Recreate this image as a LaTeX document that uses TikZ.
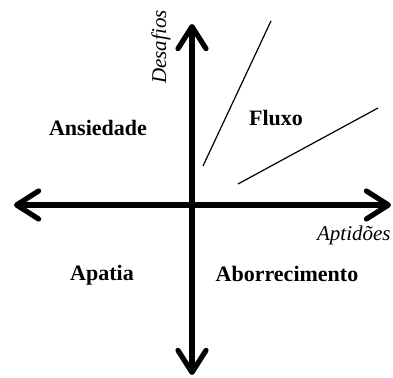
\documentclass[tikz,border=0pt]{standalone}
\usepackage{fontspec}
\setmainfont{Liberation Serif}
\usetikzlibrary{arrows.meta}

\begin{document}
\begin{tikzpicture}[x=0.5pt, y=-0.5pt,
    axis/.style={line width=2.6pt, line cap=round,
      {Straight Barb[length=11pt, width=14pt, line cap=round, line join=round]}-{Straight Barb[length=11pt, width=14pt, line cap=round, line join=round]}},
    zone/.style={font=\bfseries\fontsize{11}{13}\selectfont},
    axislabel/.style={font=\itshape\fontsize{10.5}{12}\selectfont}]
    \useasboundingbox (0,0) rectangle (393,378);
    % axes
    \coordinate (top) at (192,24);
    \coordinate (bottom) at (192,375);
    \coordinate (left) at (14,205);
    \coordinate (right) at (391,205);
    \draw[axis] (bottom) -- (top);
    \draw[axis] (left) -- (right);
    % flow channel
    \coordinate (c1a) at (203,166);
    \coordinate (c1b) at (271,21);
    \coordinate (c2a) at (238,184);
    \coordinate (c2b) at (378,108);
    \draw[line width=0.6pt] (c1a) -- (c1b);
    \draw[line width=0.6pt] (c2a) -- (c2b);
    % labels
    \node[axislabel, rotate=90] (desafios) at (161,47) {Desafios};
    \node[axislabel, anchor=east, inner sep=1pt] (aptidoes) at (393,235) {Aptidões};
    \node[zone] (ansiedade) at (98,128) {Ansiedade};
    \node[zone] (fluxo) at (276,118) {Fluxo};
    \node[zone] (apatia) at (102,275) {Apatia};
    \node[zone] (aborrecimento) at (287,274) {Aborrecimento};
\end{tikzpicture}
\end{document}
